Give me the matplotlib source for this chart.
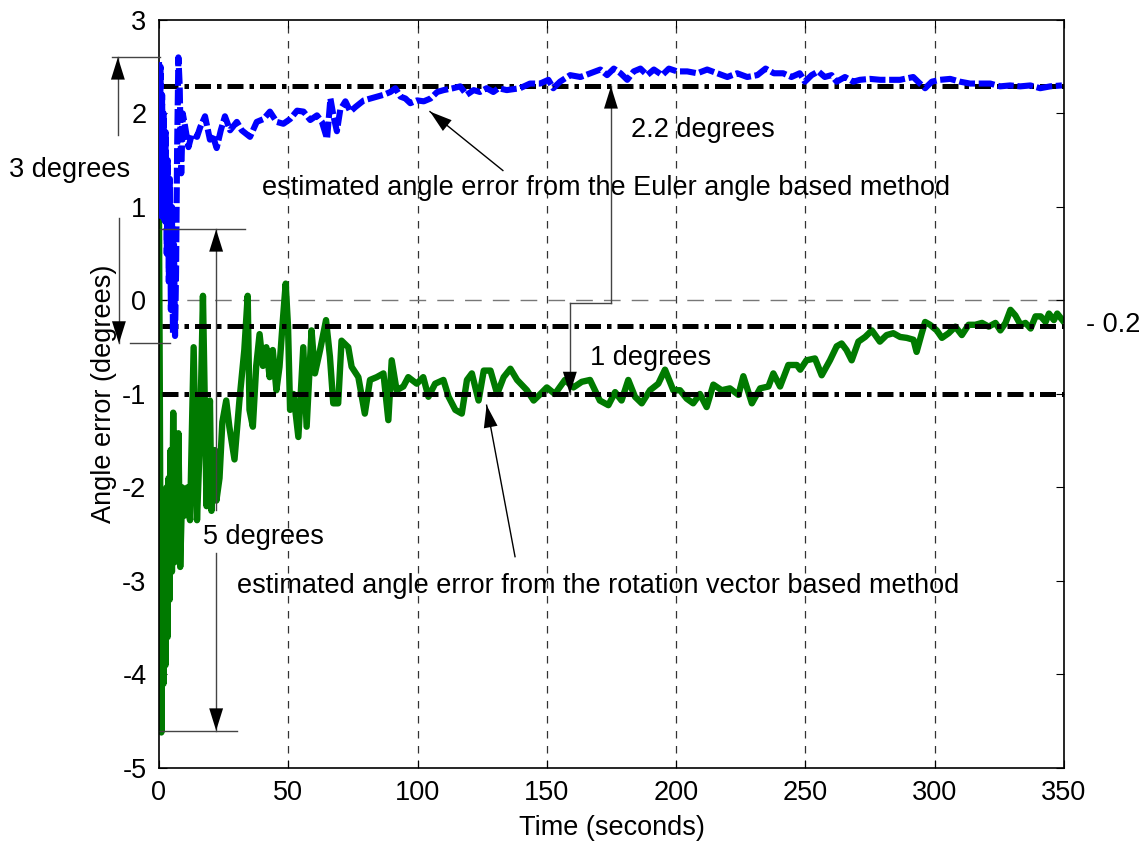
import numpy as np
import matplotlib.pyplot as plt

plt.rcParams['font.family'] = ['Liberation Sans', 'DejaVu Sans']
plt.rcParams['axes.unicode_minus'] = False

# green: rotation vector based method (time s, angle error deg)
t_rot = [0.0, 0.3, 0.6, 0.9, 1.3, 1.7, 2.1, 2.5, 2.9, 3.3, 3.7, 4.1, 4.5, 5.0, 5.5,
         6.0, 6.5, 7.0, 7.5, 8.2, 9.0, 10.0, 11.0, 12.0, 13.4, 14.7, 15.9, 17.0,
         18.4, 19.7, 20.3, 21.6, 22.2, 23.4, 24.5, 26.0, 27.2, 29.2, 31.1, 33.0,
         34.3, 35.0, 36.3, 37.6, 38.9, 40.2, 41.5, 42.8, 44.0, 45.4, 46.6, 47.9,
         49.0, 49.9, 50.7, 52.0, 53.9, 55.8, 57.1, 59.0, 60.3, 62.3, 64.6, 66.1,
         67.4, 69.3, 70.6, 73.2, 74.5, 77.1, 79.6, 81.6, 84.2, 86.8, 88.7, 90.0,
         91.9, 94.5, 96.4, 99.7, 102.2, 104.2, 106.8, 110.0, 112.0, 114.6, 117.1,
         119.1, 121.0, 123.6, 125.6, 128.2, 130.8, 133.3, 135.9, 138.5, 142.3,
         144.9, 147.5, 150.0, 153.1, 157.0, 160.3, 163.5, 166.7, 170.5, 173.8,
         176.4, 178.9, 181.5, 184.1, 186.7, 189.9, 193.1, 195.7, 198.9, 201.5,
         204.1, 206.6, 209.2, 211.8, 214.4, 217.6, 220.8, 224.1, 226.0, 229.3,
         232.5, 235.7, 237.6, 240.2, 243.4, 246.7, 248.0, 250.4, 253.7, 256.3,
         259.5, 262.1, 264.0, 265.9, 267.9, 270.5, 273.1, 275.7, 278.8, 281.4,
         284.0, 286.6, 289.2, 291.8, 293.0, 295.0, 296.3, 298.2, 300.8, 302.8,
         305.4, 308.0, 310.5, 313.1, 315.7, 318.3, 320.9, 323.5, 325.4, 327.4,
         329.3, 331.2, 333.2, 335.1, 337.1, 339.0, 341.0, 342.9, 344.2, 346.1,
         347.4, 349.4]
err_rot = [0.85, -0.9, -3.0, -4.62, -2.8, -4.1, -2.3, -3.9, -2.0, -3.6, -1.9, -3.2,
           -1.6, -2.9, -1.2, -2.8, -1.5, -2.6, -1.42, -2.85, -2.0, -2.3, -2.0, -2.35,
           -0.5, -2.35, -1.42, 0.05, -2.2, -1.07, -2.25, -1.6, -2.14, -1.9, -1.3,
           -1.07, -1.35, -1.7, -1.07, -0.53, 0.05, -1.17, -1.35, -0.7, -0.36, -0.7,
           -0.5, -0.82, -0.53, -0.96, -0.71, -0.21, 0.18, -0.28, -1.17, -1.0, -1.46,
           -0.5, -1.35, -0.32, -0.78, -0.53, -0.21, -0.6, -1.1, -1.1, -0.43, -0.5,
           -0.71, -0.82, -1.21, -0.85, -0.82, -0.78, -1.28, -0.64, -0.96, -0.92,
           -0.82, -0.89, -0.82, -1.03, -0.89, -0.85, -1.03, -1.17, -1.21, -0.85,
           -0.78, -1.07, -0.75, -0.75, -1.0, -0.82, -0.73, -0.85, -0.96, -1.07,
           -1.0, -0.93, -1.0, -0.85, -0.93, -0.87, -0.85, -1.07, -1.12, -0.98,
           -1.07, -0.85, -1.03, -1.1, -0.96, -0.89, -0.74, -0.96, -0.96, -1.05,
           -1.1, -1.0, -1.14, -0.9, -0.96, -0.94, -1.01, -0.81, -1.1, -0.94, -0.92,
           -0.78, -0.92, -0.69, -0.69, -0.74, -0.64, -0.62, -0.80, -0.64, -0.49,
           -0.46, -0.53, -0.64, -0.44, -0.39, -0.32, -0.44, -0.37, -0.35, -0.39,
           -0.40, -0.42, -0.55, -0.35, -0.23, -0.26, -0.32, -0.40, -0.35, -0.28,
           -0.37, -0.26, -0.26, -0.24, -0.28, -0.24, -0.32, -0.24, -0.10, -0.16,
           -0.26, -0.24, -0.30, -0.17, -0.17, -0.23, -0.14, -0.21, -0.14, -0.21]

# blue: Euler angle based method
t_eul = [0.0, 0.3, 0.6, 0.9, 1.2, 1.5, 1.8, 2.2, 2.6, 3.0, 3.4, 3.8, 4.2, 4.6, 5.0,
         5.4, 5.8, 6.2, 6.6, 7.0, 7.5, 8.0, 8.6, 9.2, 10.1, 11.4, 12.7, 14.7, 15.9,
         17.8, 19.7, 20.6, 22.3, 23.9, 25.5, 27.5, 30.1, 32.0, 35.2, 37.8, 40.4,
         42.9, 45.5, 48.1, 50.7, 53.4, 55.9, 58.5, 61.1, 63.0, 65.0, 66.3, 67.5,
         68.8, 70.1, 72.1, 74.0, 76.0, 79.2, 81.8, 84.3, 86.9, 89.5, 91.4, 93.4,
         95.3, 97.2, 99.8, 102.4, 105.0, 107.6, 110.1, 113.7, 116.5, 119.0, 121.7,
         124.1, 126.7, 129.3, 131.3, 134.5, 139.6, 143.5, 147.4, 150.6, 152.5,
         155.1, 159.0, 163.0, 166.8, 170.7, 173.3, 175.9, 178.5, 181.1, 183.6,
         186.2, 188.8, 191.4, 194.6, 197.2, 200.4, 204.3, 208.2, 212.0, 215.9,
         219.8, 223.6, 227.5, 231.4, 234.6, 237.8, 241.4, 244.6, 247.8, 249.8,
         252.4, 255.0, 257.5, 260.1, 262.1, 265.3, 268.5, 271.1, 275.0, 278.9,
         282.7, 286.6, 291.7, 294.3, 296.3, 298.9, 302.1, 306.0, 309.8, 313.7,
         317.6, 321.5, 325.3, 329.2, 333.1, 337.0, 340.8, 344.7, 349.2]
err_eul = [2.55, 1.2, 2.5, 0.9, 2.2, 1.0, 2.0, 0.85, 1.8, 0.5, 1.5, 0.2, 1.3, -0.1,
           1.0, -0.35, 0.6, -0.38, 0.3, 1.6, 2.6, 2.3, 1.36, 2.0, 1.86, 1.64, 1.78,
           1.75, 1.85, 1.97, 1.72, 1.78, 1.63, 1.82, 1.97, 1.82, 1.91, 1.82, 1.75,
           1.91, 1.94, 2.02, 1.91, 1.89, 1.94, 2.03, 2.02, 1.93, 1.98, 1.91, 1.73,
           2.16, 1.97, 1.81, 2.04, 2.13, 2.02, 2.07, 2.14, 2.16, 2.18, 2.2, 2.23,
           2.27, 2.18, 2.16, 2.11, 2.14, 2.13, 2.16, 2.23, 2.25, 2.27, 2.29, 2.2,
           2.25, 2.23, 2.27, 2.23, 2.27, 2.25, 2.27, 2.32, 2.32, 2.36, 2.27, 2.34,
           2.41, 2.39, 2.43, 2.47, 2.41, 2.48, 2.43, 2.36, 2.45, 2.48, 2.41, 2.47,
           2.41, 2.48, 2.45, 2.45, 2.43, 2.47, 2.43, 2.39, 2.43, 2.39, 2.41, 2.48,
           2.43, 2.43, 2.39, 2.43, 2.34, 2.41, 2.45, 2.39, 2.41, 2.34, 2.39, 2.34,
           2.36, 2.37, 2.36, 2.36, 2.36, 2.39, 2.32, 2.27, 2.34, 2.36, 2.37, 2.34,
           2.32, 2.32, 2.32, 2.29, 2.30, 2.29, 2.30, 2.27, 2.29, 2.30]

# reference levels
levels = [2.29, -0.27, -1.0]

fig = plt.figure(figsize=(11.48, 8.5), dpi=100)
ax = fig.add_axes([0.1385, 0.0965, 0.7883, 0.88])

for xv in [50, 100, 150, 200, 250, 300]:
    ax.axvline(xv, color='#333333', lw=0.9, ls=(0, (6, 6)), zorder=1)
ax.axhline(0, color='#777777', lw=1.0, ls=(0, (12, 8)), zorder=1)

ax.plot(t_rot, err_rot, color='#007a00', lw=4.6, solid_joinstyle='round', zorder=2)
for lv in levels:
    ax.plot([1.2, 350], [lv, lv], color='k', lw=3.6, ls=(0, (3.2, 1.2, 0.9, 1.2)), zorder=3)
ax.plot(t_eul, err_eul, color='#0000ff', lw=4.4, ls=(0, (2.6, 0.6)), zorder=4)

ax.set_xlim(0, 350)
ax.set_ylim(-5, 3)
ax.set_xticks(range(0, 351, 50))
ax.set_yticks(range(-5, 4))
ax.tick_params(direction='in', length=6, width=0.8, top=True, right=True,
               labelsize=19.5, pad=9)
for s in ax.spines.values():
    s.set_linewidth(1.2)
ax.set_xlabel('Time (seconds)', fontsize=19.5, labelpad=6)
ax.set_ylabel('Angle error (degrees)', fontsize=19.5, labelpad=4)

fs = 19.5
grey = '#444444'
head = '-|>,head_length=0.8,head_width=0.25'


def arrow(x0, y0, x1, y1, c=grey, lw=1.0):
    ax.plot([x0, x1], [y0, y1], color=c, lw=lw, clip_on=False, zorder=6)
    ax.annotate('', xy=(x1, y1), xytext=(x0, y0),
                arrowprops=dict(arrowstyle=head, lw=0, mutation_scale=20,
                                shrinkA=0, shrinkB=0, facecolor='k', edgecolor='k'),
                annotation_clip=False, zorder=7)


def seg(x0, x1, y0, y1):
    ax.plot([x0, x1], [y0, y1], color=grey, lw=1.0, clip_on=False, zorder=6)


# 3 degrees (outside left)
seg(-18.2, 0.4, 2.60, 2.60)
arrow(-15.9, 1.77, -15.9, 2.60)
arrow(-15.5, 0.88, -15.5, -0.46)
seg(-11.2, 4.3, -0.46, -0.46)
ax.text(-34.4, 1.40, '3 degrees', fontsize=fs, ha='center', va='center')

# 5 degrees
seg(0.4, 33.3, 0.76, 0.76)
arrow(22.1, -2.24, 22.1, 0.76)
arrow(22.1, -2.70, 22.1, -4.60)
seg(0.4, 30.2, -4.60, -4.60)
ax.text(40.2, -2.53, '5 degrees', fontsize=fs, ha='center', va='center')

# 2.2 degrees and 1 degrees
arrow(174.8, -0.03, 174.8, 2.29)
seg(158.9, 174.8, -0.03, -0.03)
arrow(158.9, -0.03, 158.9, -1.0)
ax.text(210.4, 1.82, '2.2 degrees', fontsize=fs, ha='center', va='center')
ax.text(190.3, -0.61, '1 degrees', fontsize=fs, ha='center', va='center')

# method labels
ax.text(172.9, 1.20, 'estimated angle error from the Euler angle based method',
        fontsize=fs, ha='center', va='center')
arrow(133.0, 1.39, 104.8, 2.02, c='k')
ax.text(169.8, -3.05, 'estimated angle error from the rotation vector based method',
        fontsize=fs, ha='center', va='center')
arrow(137.7, -2.74, 126.7, -1.12, c='k')

ax.text(358.5, -0.26, '- 0.2', fontsize=fs, ha='left', va='center')

fig.savefig('out.png', dpi=100)
